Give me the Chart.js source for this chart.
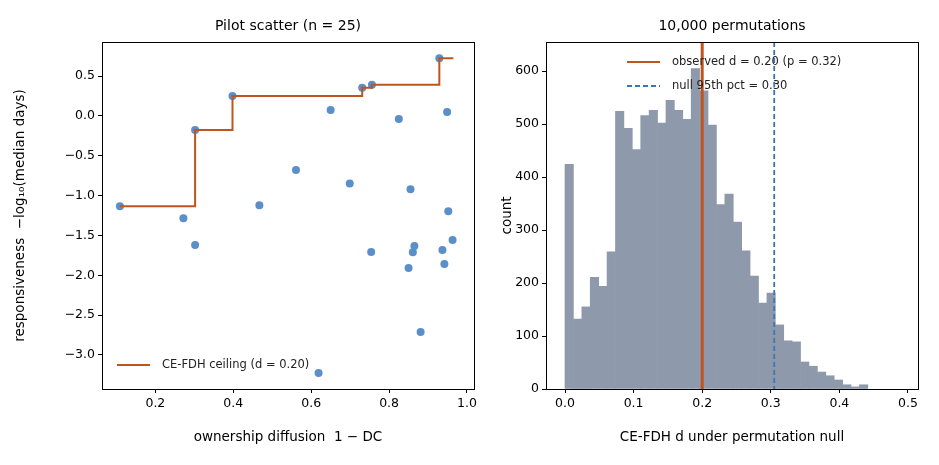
<!DOCTYPE html>
<html>
<head>
<meta charset="utf-8">
<script src="https://cdn.jsdelivr.net/npm/chart.js@4"></script>
<style>
  body { margin: 0; background: #fff; width: 939px; height: 465px; overflow: hidden; }
  .box { position: absolute; top: 0; height: 465px; }
</style>
</head>
<body>
<div class="box" style="left:0;width:480px"><canvas id="scatter"></canvas></div>
<div class="box" style="left:490px;width:449px"><canvas id="hist"></canvas></div>
<script>
// Données du nuage de points
const diffusion = [0.109, 0.272, 0.302, 0.302, 0.398, 0.467, 0.561, 0.619, 0.650, 0.699, 0.731, 0.754, 0.756,
                   0.825, 0.850, 0.855, 0.861, 0.865, 0.881, 0.929, 0.937, 0.942, 0.949, 0.952, 0.963];
const responsiveness = [-1.135, -1.285, -0.178, -1.62, 0.249, -1.122, -0.679, -3.227, 0.073, -0.847, 0.354, -1.708, 0.391,
                        -0.040, -1.909, -0.922, -1.712, -1.633, -2.712, 0.722, -1.683, -1.859, 0.048, -1.198, -1.558];
// Plafond CE-FDH
const ceilingX = [0.109, 0.302, 0.398, 0.731, 0.756, 0.929, 0.965];
const ceilingY = [-1.135, -0.178, 0.249, 0.354, 0.391, 0.722, 0.722];

// Histogramme des permutations
const binWidth = 0.4415 / 36;
const counts = [424, 132, 155, 211, 194, 259, 524, 492, 452, 516, 526, 502, 545, 526, 509, 605, 563, 498,
                348, 368, 315, 261, 213, 162, 181, 121, 91, 89, 51, 43, 32, 25, 17, 8, 4, 8];
const observedD = 0.20;
const null95 = 0.305;

const leftXTicks = [0.2, 0.4, 0.6, 0.8, 1.0];
const leftYTicks = [-3.0, -2.5, -2.0, -1.5, -1.0, -0.5, 0.0, 0.5];
const rightXTicks = [0, 0.1, 0.2, 0.3, 0.4, 0.5];
const rightYTicks = [0, 100, 200, 300, 400, 500, 600];

const FONT = "'DejaVu Sans', sans-serif";
const minus = v => v.toFixed(1).replace('-', '\u2212');

// Cadre complet + titre + légende
function frame(title, legend) {
    return {
        id: 'frame',
        afterDraw(chart) {
            const { ctx, chartArea: a } = chart;
            ctx.save();
            ctx.strokeStyle = '#000';
            ctx.lineWidth = 1;
            ctx.strokeRect(a.left + 0.5, a.top + 0.5, a.right - a.left, a.bottom - a.top);
            ctx.fillStyle = '#000';
            ctx.font = `14px ${FONT}`;
            ctx.textAlign = 'center';
            ctx.fillText(title, (a.left + a.right) / 2, a.top - 12);
            ctx.font = `11.5px ${FONT}`;
            ctx.textAlign = 'left';
            ctx.textBaseline = 'middle';
            legend.forEach(l => {
                ctx.strokeStyle = l.color;
                ctx.lineWidth = 2;
                ctx.setLineDash(l.dash || []);
                ctx.beginPath();
                ctx.moveTo(l.x, l.y);
                ctx.lineTo(l.x + 33, l.y);
                ctx.stroke();
                ctx.setLineDash([]);
                ctx.fillStyle = '#222';
                ctx.fillText(l.text, l.x + 45, l.y);
            });
            ctx.restore();
        }
    };
}

function axis(min, max, ticks, fmt, title, width, height, titlePad) {
    return {
        type: 'linear', min, max, offset: false,
        afterBuildTicks: s => { s.ticks = ticks.map(v => ({ value: v })); },
        afterFit: s => { if (width) s.width = width; if (height) s.height = height; },
        ticks: { color: '#000', font: { family: FONT, size: 12.5 }, padding: 3, callback: fmt },
        grid: { display: true, drawOnChartArea: false, offset: false, tickLength: 4, color: '#000' },
        border: { color: '#000' },
        title: { display: true, text: title, color: '#000', font: { family: FONT, size: 13.5 }, padding: titlePad }
    };
}

new Chart(document.getElementById('scatter'), {
    type: 'scatter',
    data: {
        datasets: [{
            type: 'line',
            data: ceilingX.map((x, i) => ({ x, y: ceilingY[i] })),
            borderColor: '#c0541f', borderWidth: 2, stepped: true, pointRadius: 0, fill: false
        }, {
            data: diffusion.map((x, i) => ({ x, y: responsiveness[i] })),
            backgroundColor: '#5b8fc9', borderWidth: 0, pointRadius: 4
        }]
    },
    options: {
        responsive: true, maintainAspectRatio: false, animation: false,
        layout: { padding: { top: 42, right: 2, left: 0 } },
        plugins: { legend: { display: false }, tooltip: { enabled: false } },
        scales: {
            x: axis(0.063, 1.018, leftXTicks, v => v.toFixed(1), 'ownership diffusion  1 \u2212 DC', 0, 76, { top: 2, bottom: 19 }),
            y: axis(-3.427, 0.927, leftYTicks, minus, 'responsiveness  \u2212log\u2081\u2080(median days)', 102, 0, { top: 12, bottom: 2 })
        }
    },
    plugins: [frame('Pilot scatter (n = 25)', [
        { x: 117, y: 365, color: '#c0541f', text: 'CE-FDH ceiling (d = 0.20)' }
    ])]
});

const vline = {
    id: 'vline',
    afterDatasetsDraw(chart) {
        const { ctx, chartArea: a, scales: { x } } = chart;
        ctx.save();
        ctx.lineWidth = 3;
        ctx.strokeStyle = '#c0541f';
        let px = x.getPixelForValue(observedD);
        ctx.beginPath(); ctx.moveTo(px, a.top); ctx.lineTo(px, a.bottom); ctx.stroke();
        ctx.lineWidth = 1.8;
        ctx.strokeStyle = '#3a75b8';
        ctx.setLineDash([5, 3]);
        px = x.getPixelForValue(null95);
        ctx.beginPath(); ctx.moveTo(px, a.top); ctx.lineTo(px, a.bottom); ctx.stroke();
        ctx.restore();
    }
};

new Chart(document.getElementById('hist'), {
    type: 'bar',
    data: {
        datasets: [{
            data: counts.map((c, i) => ({ x: (i + 0.5) * binWidth, y: c })),
            backgroundColor: '#8e9aab', borderWidth: 0,
            barPercentage: 1, categoryPercentage: 1
        }]
    },
    options: {
        responsive: true, maintainAspectRatio: false, animation: false,
        layout: { padding: { top: 42, right: 21, left: 0 } },
        plugins: { legend: { display: false }, tooltip: { enabled: false } },
        scales: {
            x: axis(-0.0277, 0.5146, rightXTicks, v => v.toFixed(1), 'CE-FDH d under permutation null', 0, 76, { top: 2, bottom: 19 }),
            y: axis(0, 655, rightYTicks, v => String(v), 'count', 56, 0, { top: 9, bottom: 2 })
        }
    },
    plugins: [vline, frame('10,000 permutations', [
        { x: 137, y: 62, color: '#c0541f', text: 'observed d = 0.20 (p = 0.32)' },
        { x: 137, y: 86, color: '#3a75b8', dash: [5, 3], text: 'null 95th pct = 0.30' }
    ])]
});
</script>
</body>
</html>
